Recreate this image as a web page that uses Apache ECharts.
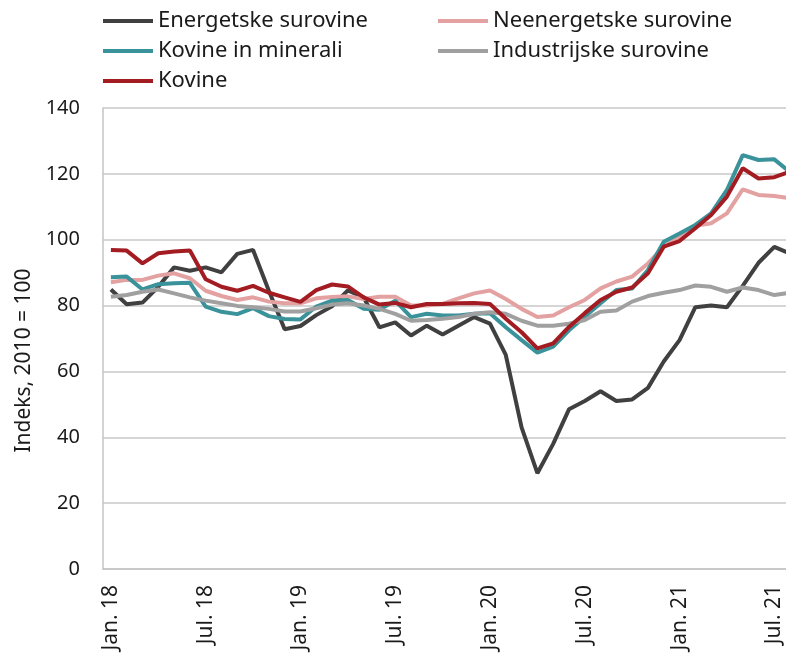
<!DOCTYPE html>
<html lang="sl">
  <head>
    <meta charset="utf-8">
    <title>Cene surovin</title>
    <script src="https://cdn.jsdelivr.net/npm/echarts@6/dist/echarts.min.js"></script>
    <style>
      html, body { margin: 0; padding: 0; background: #fff; overflow: hidden; }
      /* the plot runs a little past the right edge of the window, as in the original */
      #chart { width: 800px; height: 657px; }
    </style>
  </head>
  <body>
    <div id="chart"></div>

    <script>
      // months Jan. 18 .. Aug. 21
      var monthNames = ['Jan.', 'Feb.', 'Mar.', 'Apr.', 'Maj.', 'Jun.', 'Jul.', 'Avg.', 'Sep.', 'Okt.', 'Nov.', 'Dec.'];
      var years = ['18', '19', '20', '21'];
      var monthCount = 44;

      var energetske = [84.9, 80.4, 80.9, 85.7, 91.6, 90.6, 91.6, 90.1, 95.7, 96.9, 84.5, 72.8,
                        73.8, 77.1, 79.8, 84.6, 82.5, 73.4, 74.9, 70.9, 73.9, 71.2, 73.9, 76.5,
                        74.5, 65.0, 43.0, 29.1, 38.0, 48.5, 51.0, 54.0, 51.0, 51.5, 55.0, 63.0,
                        69.5, 79.5, 80.0, 79.5, 86.0, 93.0, 97.8, 95.8];
      var neenergetske = [87.1, 87.8, 87.8, 89.1, 89.8, 88.3, 84.5, 82.9, 81.7, 82.5, 81.2, 80.7,
                          80.7, 82.2, 82.6, 82.8, 82.0, 82.7, 82.7, 80.0, 80.0, 80.5, 82.2, 83.7,
                          84.6, 82.0, 79.0, 76.5, 77.0, 79.5, 81.7, 85.2, 87.3, 88.8, 92.8, 97.9,
                          100.9, 104.2, 105.0, 108.0, 115.3, 113.6, 113.3, 112.6];
      var kovineMinerali = [88.6, 88.8, 84.9, 86.5, 86.8, 86.9, 79.7, 78.1, 77.4, 79.2, 76.8, 75.9,
                            75.8, 79.7, 81.5, 81.7, 79.0, 78.7, 81.5, 76.5, 77.5, 77.0, 77.0, 77.5,
                            77.7, 73.4, 69.5, 65.7, 67.5, 72.5, 76.6, 80.7, 84.7, 85.2, 90.8, 99.4,
                            101.9, 104.5, 108.0, 115.1, 125.7, 124.2, 124.4, 120.5];
      var industrijske = [82.7, 83.2, 84.2, 84.9, 83.7, 82.5, 81.5, 80.7, 79.9, 79.5, 79.0, 78.2,
                          78.2, 79.2, 80.3, 80.7, 80.0, 79.0, 77.5, 75.4, 75.6, 76.0, 76.5, 77.5,
                          78.0, 77.5, 75.4, 73.9, 73.9, 74.5, 75.6, 78.1, 78.5, 81.2, 82.9, 83.9,
                          84.7, 86.1, 85.7, 84.2, 85.5, 84.7, 83.2, 83.9];
      var kovine = [96.9, 96.7, 92.8, 95.9, 96.4, 96.7, 88.0, 85.7, 84.5, 86.0, 83.9, 82.5,
                    81.1, 84.7, 86.4, 85.8, 82.5, 80.3, 80.8, 79.5, 80.5, 80.5, 80.7, 80.8,
                    80.5, 76.0, 71.9, 67.0, 68.5, 73.5, 77.7, 81.7, 84.2, 85.5, 89.8, 97.9,
                    99.6, 103.5, 107.5, 113.1, 121.7, 118.6, 119.0, 120.7];

      var months = [];
      for (var i = 0; i < monthCount; i++) {
        months.push(monthNames[i % 12] + ' ' + years[Math.floor(i / 12)]);
      }

      var fontName = 'Noto Sans';

      function line(name, data, color) {
        return {
          name: name,
          type: 'line',
          data: data,
          symbol: 'none',
          lineStyle: {color: color, width: 4},
          itemStyle: {color: color},
          emphasis: {disabled: true}
        };
      }

      var legendText = {fontFamily: fontName, fontSize: 22, color: '#1a1a1a', lineHeight: 22};

      var myChart = echarts.init(document.getElementById('chart'));
      myChart.setOption({
        animation: false,
        textStyle: {fontFamily: fontName},
        legend: [
          {
            orient: 'vertical',
            left: 103,
            top: 10,
            padding: 0,
            itemWidth: 50,
            itemHeight: 4,
            itemGap: 8,
            icon: 'rect',
            textStyle: legendText,
            data: ['Energetske surovine', 'Kovine in minerali', 'Kovine']
          },
          {
            orient: 'vertical',
            left: 438,
            top: 10,
            padding: 0,
            itemWidth: 50,
            itemHeight: 4,
            itemGap: 8,
            icon: 'rect',
            textStyle: legendText,
            data: ['Neenergetske surovine', 'Industrijske surovine']
          }
        ],
        grid: {left: 103, top: 108, bottom: 88, right: 2, containLabel: false},
        xAxis: {
          type: 'category',
          data: months,
          boundaryGap: true,
          axisLine: {lineStyle: {color: '#c4c4c4', width: 1.5}},
          axisTick: {show: false},
          axisLabel: {
            interval: 5,
            rotate: 90,
            margin: 16,
            fontFamily: fontName,
            fontSize: 21,
            color: '#1a1a1a'
          }
        },
        yAxis: {
          type: 'value',
          min: 0,
          max: 140,
          interval: 20,
          name: 'Indeks, 2010 = 100',
          nameLocation: 'middle',
          nameGap: 67,
          nameTextStyle: {fontFamily: fontName, fontSize: 21, color: '#1a1a1a', padding: [0, 44, 0, 0]},
          axisLine: {show: true, lineStyle: {color: '#c4c4c4', width: 1.5}},
          axisTick: {show: false},
          axisLabel: {margin: 23, fontFamily: fontName, fontSize: 20, color: '#1a1a1a'},
          splitLine: {lineStyle: {color: '#c8c8c8', width: 1.5}}
        },
        series: [
          line('Energetske surovine', energetske, '#404040'),
          line('Neenergetske surovine', neenergetske, '#e3a1a1'),
          line('Kovine in minerali', kovineMinerali, '#3a929a'),
          line('Industrijske surovine', industrijske, '#a0a0a0'),
          line('Kovine', kovine, '#a31c22')
        ]
      });
    </script>
  </body>
</html>
